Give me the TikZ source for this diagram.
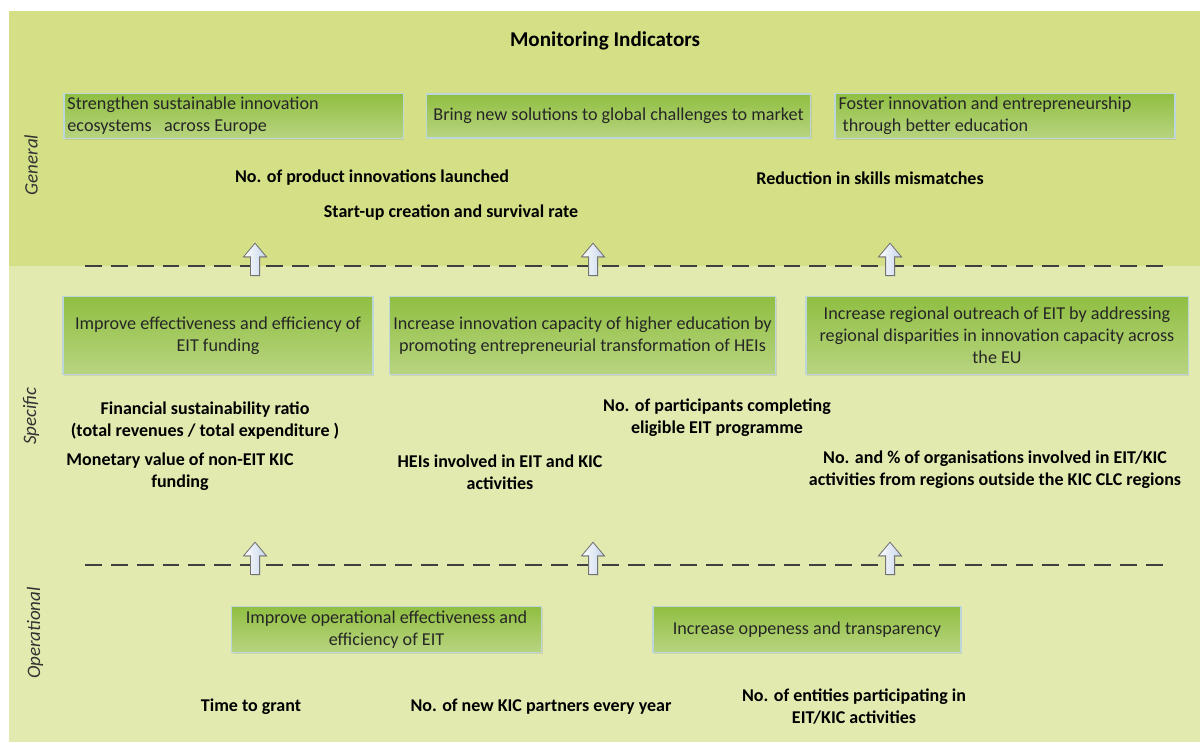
\documentclass[tikz,border=0pt]{standalone}
\usepackage{fontspec}
\setmainfont{Carlito}
\usetikzlibrary{shapes.arrows,shadows}

\definecolor{genbg}{RGB}{212,223,134}
\definecolor{spebg}{RGB}{226,234,176}
\definecolor{boxtop}{RGB}{144,191,66}
\definecolor{boxbot}{RGB}{184,212,128}
\definecolor{boxline}{RGB}{188,214,220}
\definecolor{arrowfill}{RGB}{196,212,234}

\begin{document}
\begin{tikzpicture}[
	x=0.025cm, y=-0.025cm,
	font=\fontsize{12.9}{15.6}\selectfont,
	goal/.style={draw=boxline, line width=0.8pt, top color=boxtop, bottom color=boxbot,
		text=black!85, align=center, inner sep=2.5pt,
		drop shadow={shadow xshift=1pt, shadow yshift=-1pt, opacity=0.2}},
	indicator/.style={font=\fontsize{12.8}{15.6}\selectfont\bfseries, align=center},
	level/.style={rotate=90, font=\fontsize{13.5}{15}\selectfont\itshape, text=black!80},
	up/.style={single arrow, rotate=90, draw=black!55, line width=0.6pt, left color=white,
		right color=arrowfill, inner sep=2.85pt, minimum height=23pt,
		single arrow head extend=5pt, single arrow tip angle=80,
		drop shadow={shadow xshift=0.8pt, shadow yshift=-0.8pt, opacity=0.25}},
	sep/.style={black!75, line width=1pt, dash pattern=on 12pt off 6.4pt}
]
\useasboundingbox (0,0) rectangle (1200,742);

%% Background bands
\fill[genbg] (9,11) rectangle (1200,266);
\fill[spebg] (9,266) rectangle (1200,742);

\node[font=\fontsize{15}{18}\selectfont\bfseries] (title) at (605,41) {Monitoring Indicators};

%% Levels
\node[level] (gen) at (31,165) {General};
\node[level] (spe) at (31,416) {Specific};
\node[level] (ope) at (35,633) {Operational};

%% General objectives
\node[goal, align=flush left, text width=8.3cm, minimum height=1.1cm] (g1) at (233.5,116)
	{Strengthen sustainable innovation\\ecosystems\ \ \ across Europe};
\node[goal, minimum width=9.58cm, minimum height=1.1cm] (g2) at (618.5,116)
	{Bring new solutions to global challenges to market};
\node[goal, align=flush left, text width=8.32cm, minimum height=1.1cm] (g3) at (1005,116)
	{Foster innovation and entrepreneurship\\\ through better education};

\node[indicator] (gi1) at (372,178) {No. of product innovations launched};
\node[indicator] (gi2) at (870,178) {Reduction in skills mismatches};
\node[indicator] (gi3) at (451,213) {Start-up creation and survival rate};

%% Specific objectives
\node[goal, minimum width=7.75cm, minimum height=1.93cm] (s1) at (218,335.5)
	{Improve effectiveness and efficiency of\\EIT funding};
\node[goal, minimum width=9.63cm, minimum height=1.93cm] (s2) at (582.5,335.5)
	{Increase innovation capacity of higher education by\\promoting entrepreneurial transformation of HEIs};
\node[goal, minimum width=9.55cm, minimum height=1.93cm] (s3) at (997,335.5)
	{Increase regional outreach of EIT by addressing\\regional disparities in innovation capacity across\\the EU};

\node[indicator] (si1) at (205,421) {Financial sustainability ratio\\(total revenues / total expenditure )};
\node[indicator] (si2) at (180,472) {Monetary value of non-EIT KIC\\funding};
\node[indicator] (si3) at (500,472) {HEIs involved in EIT and KIC\\activities};
\node[indicator] (si4) at (717,418) {No. of participants completing\\eligible EIT programme};
\node[indicator] (si5) at (995,470) {No. and \% of organisations involved in EIT/KIC\\activities from regions outside the KIC CLC regions};

%% Operational objectives
\node[goal, minimum width=7.73cm, minimum height=1.13cm] (o1) at (386.5,629.5)
	{Improve operational effectiveness and\\efficiency of EIT};
\node[goal, minimum width=7.7cm, minimum height=1.13cm] (o2) at (807,629.5)
	{Increase oppeness and transparency};

\node[indicator] (oi1) at (251,707) {Time to grant};
\node[indicator] (oi2) at (541,707) {No. of new KIC partners every year};
\node[indicator] (oi3) at (854,707) {No. of entities participating in\\EIT/KIC activities};

%% Separators and arrows
\coordinate (d1a) at (85,266); \coordinate (d1b) at (1170,266);
\coordinate (d2a) at (85,565); \coordinate (d2b) at (1170,565);
\draw[sep] (d1a) -- (d1b);
\draw[sep] (d2a) -- (d2b);
\foreach \x [count=\i] in {255,593,890}{
	\node[up] (ua\i) at (\x,262) {};
	\node[up] (ub\i) at (\x,561) {};
}
\end{tikzpicture}
\end{document}
